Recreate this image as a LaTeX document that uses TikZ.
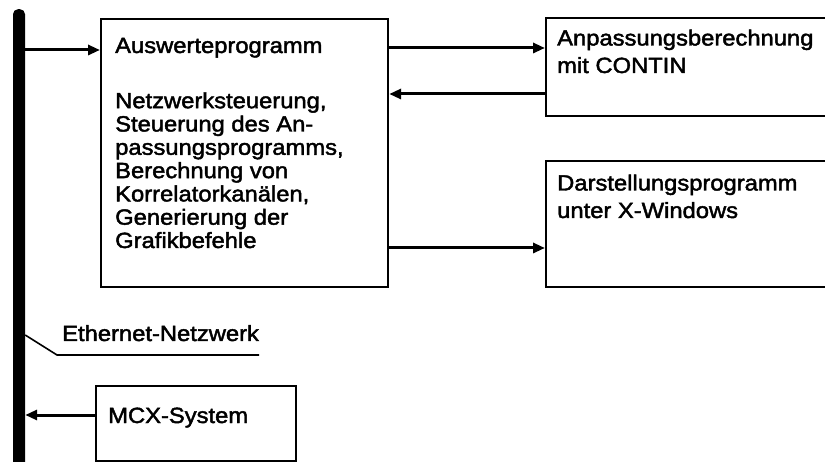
\documentclass[tikz,border=0pt]{standalone}
\usepackage{fontspec}
\setmainfont{Liberation Sans}[FakeStretch=1.08,FakeBold=2]
\usetikzlibrary{arrows.meta}
\begin{document}
\begin{tikzpicture}[x=1pt,y=-1pt,
  box/.style={draw, line width=2.2pt, inner sep=0pt, anchor=north west},
  txt/.style={anchor=base west, inner sep=0pt, align=left, font=\fontsize{22}{27.5}\selectfont},
  body/.style={txt, font=\fontsize{22}{23.3}\selectfont},
  arr/.style={line width=3pt, -{Triangle[length=12pt,width=10pt]}},
  pointer/.style={line width=1.6pt}]
\clip (0,0) rectangle (825,462);
\fill[white] (0,0) rectangle (825,462);
% network bar
\node[fill=black, minimum width=12pt, minimum height=470pt, inner sep=0pt, rounded corners=5pt, anchor=north] (bar) at (19,9) {};
% boxes
\node[box, minimum width=287pt, minimum height=268pt] (main) at (100,18) {};
\node[box, minimum width=320pt, minimum height=98pt] (A) at (545,17) {};
\node[box, minimum width=320pt, minimum height=126pt] (B) at (545,160) {};
\node[box, minimum width=200pt, minimum height=75pt] (mcx) at (95,385) {};
% texts (base anchor = baseline of the last line)
\node[txt] (t1) at (115,53) {Auswerteprogramm};
\node[body] (t2) at (115,248) {Netzwerksteuerung,\\Steuerung des An-\\passungsprogramms,\\Berechnung von\\Korrelatorkanälen,\\Generierung der\\Grafikbefehle};
\node[txt] (tA) at (557,73) {Anpassungsberechnung\\mit CONTIN};
\node[txt] (tB) at (557,218) {Darstellungsprogramm\\unter X-Windows};
\node[txt] (tM) at (108,423) {MCX-System};
\node[txt] (eth) at (62,341) {Ethernet-Netzwerk};
% connectors
\draw[arr] (bar.east |- 0,50) -- (main.west |- 0,50);
\draw[arr] (main.east |- 0,48) -- (A.west |- 0,48);
\draw[arr] (A.west |- 0,94) -- (main.east |- 0,94);
\draw[arr] (main.east |- 0,248) -- (B.west |- 0,248);
\draw[arr] (mcx.west |- 0,415) -- (bar.east |- 0,415);
\coordinate (ethk) at (57,355);
\draw[pointer] (bar.east |- 0,335) -- (ethk) -- (eth.east |- ethk);
\end{tikzpicture}
\end{document}
